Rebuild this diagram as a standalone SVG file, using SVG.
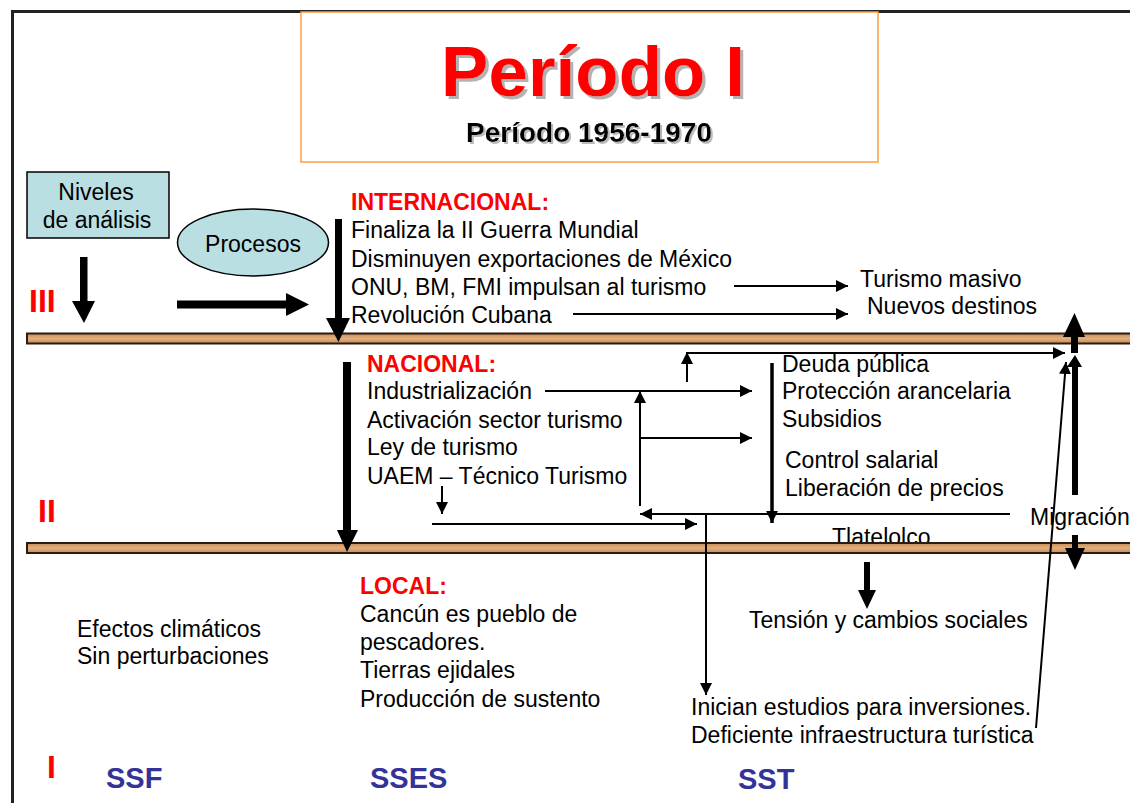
<svg xmlns="http://www.w3.org/2000/svg" width="1130" height="803" viewBox="0 0 1130 803">
<style>
.t{font-family:"Liberation Sans",Arial,sans-serif;font-size:23px;fill:#000}
.h{font-family:"Liberation Sans",Arial,sans-serif;font-size:23px;font-weight:bold;fill:#ff0000}
.lv{font-family:"Liberation Sans",Arial,sans-serif;font-size:32px;font-weight:bold;fill:#ff0000}
.ss{font-family:"Liberation Sans",Arial,sans-serif;font-size:29px;font-weight:bold;fill:#333399}
.ln{stroke:#000;stroke-width:2;fill:none}
.thick{fill:#000}
.bar{fill:url(#wood);stroke:#2a1c12;stroke-width:2}
.node{fill:#b9dfe3;stroke:#000;stroke-width:1.5}
</style>
<defs>
<linearGradient id="wood" x1="0" y1="0" x2="0" y2="1">
<stop offset="0" stop-color="#c88a55"/>
<stop offset="0.5" stop-color="#e2b07f"/>
<stop offset="1" stop-color="#c88a55"/>
</linearGradient>
<filter id="sh1" x="-5%" y="-10%" width="115%" height="130%">
<feOffset in="SourceAlpha" dx="3" dy="3" result="o"/>
<feFlood flood-color="#b3b3b3"/>
<feComposite in2="o" operator="in" result="s"/>
<feMerge><feMergeNode in="s"/><feMergeNode in="SourceGraphic"/></feMerge>
</filter>
<filter id="sh2" x="-5%" y="-10%" width="115%" height="130%">
<feOffset in="SourceAlpha" dx="2" dy="2" result="o"/>
<feFlood flood-color="#bbbbbb"/>
<feComposite in2="o" operator="in" result="s"/>
<feMerge><feMergeNode in="s"/><feMergeNode in="SourceGraphic"/></feMerge>
</filter>
<marker id="ah" viewBox="0 0 10 10" refX="10" refY="5" markerWidth="6" markerHeight="6" orient="auto" markerUnits="strokeWidth">
<path d="M0,0 L10,5 L0,10 z" fill="#000"/>
</marker>
<marker id="ah2" viewBox="0 0 10 10" refX="10" refY="5" markerWidth="3.4" markerHeight="3.4" orient="auto" markerUnits="strokeWidth">
<path d="M0,0 L10,5 L0,10 z" fill="#000"/>
</marker>
</defs>
<rect width="1130" height="803" fill="#fff"/>
<rect x="12.5" y="11.5" width="1130" height="810" fill="none" stroke="#222" stroke-width="3"/>

<g id="title">
<rect x="301" y="12" width="577" height="150" fill="#fff" stroke="#f7a040" stroke-width="1.5"/>
<text x="593" y="96" text-anchor="middle" font-family="Liberation Sans,Arial,sans-serif" font-size="71" font-weight="bold" fill="#ff0000" filter="url(#sh1)">Período I</text>
<text x="589" y="142" text-anchor="middle" font-family="Liberation Sans,Arial,sans-serif" font-size="28" font-weight="bold" fill="#000" filter="url(#sh2)">Período 1956-1970</text>
</g>

<g id="niveles">
<rect class="node" x="27" y="172" width="142" height="66"/>
<text class="t" x="96" y="200" text-anchor="middle">Niveles</text>
<text class="t" x="97" y="228" text-anchor="middle">de análisis</text>
</g>
<g id="procesos">
<ellipse class="node" cx="253" cy="242.5" rx="75.5" ry="33.5"/>
<text class="t" x="253" y="252" text-anchor="middle">Procesos</text>
</g>

<g id="labels-levels">
<text class="lv" x="29" y="312">III</text>
<text class="lv" x="38" y="522">II</text>
<text class="lv" x="47" y="778">I</text>
</g>

<g id="internacional">
<text class="h" x="351" y="210">INTERNACIONAL:</text>
<text class="t" x="351" y="238">Finaliza la II Guerra Mundial</text>
<text class="t" x="351" y="267">Disminuyen exportaciones de México</text>
<text class="t" x="351" y="295">ONU, BM, FMI impulsan al turismo</text>
<text class="t" x="351" y="323">Revolución Cubana</text>
<text class="t" x="860" y="287">Turismo masivo</text>
<text class="t" x="867" y="314">Nuevos destinos</text>
</g>

<g id="nacional">
<text class="h" x="367" y="372">NACIONAL:</text>
<text class="t" x="367" y="399">Industrialización</text>
<text class="t" x="367" y="428">Activación sector turismo</text>
<text class="t" x="367" y="455">Ley de turismo</text>
<text class="t" x="367" y="484">UAEM – Técnico Turismo</text>
<text class="t" x="782" y="372">Deuda pública</text>
<text class="t" x="782" y="399">Protección arancelaria</text>
<text class="t" x="782" y="427">Subsidios</text>
<text class="t" x="785" y="468">Control salarial</text>
<text class="t" x="785" y="496">Liberación de precios</text>
<text class="t" x="832" y="545">Tlatelolco</text>
<text class="t" x="1030" y="525">Migración</text>
</g>

<g id="local">
<text class="h" x="360" y="594">LOCAL:</text>
<text class="t" x="360" y="622">Cancún es pueblo de</text>
<text class="t" x="360" y="650">pescadores.</text>
<text class="t" x="360" y="678">Tierras ejidales</text>
<text class="t" x="360" y="707">Producción de sustento</text>
<text class="t" x="77" y="637">Efectos climáticos</text>
<text class="t" x="77" y="664">Sin perturbaciones</text>
<text class="t" x="749" y="628">Tensión y cambios sociales</text>
<text class="t" x="691" y="715">Inician estudios para inversiones.</text>
<text class="t" x="691" y="743">Deficiente infraestructura turística</text>
</g>

<g id="subsystems">
<text class="ss" x="106" y="788">SSF</text>
<text class="ss" x="370" y="788">SSES</text>
<text class="ss" x="738" y="789">SST</text>
</g>

<g id="bars">
<rect class="bar" x="27" y="333.5" width="1110" height="10"/>
<rect class="bar" x="27" y="543" width="1110" height="10"/>
</g>

<g id="connectors">
<path class="thick" d="M80,257 H87.5 V301 H95 L84,323 L72,301 H80 Z"/>
<path class="thick" d="M177,300.5 H286 V293 L309,304.5 L286,316 V308.5 H177 Z"/>
<path class="thick" d="M335,219 H342 V318 H350 L338.5,342 L326,318 H335 Z"/>
<path class="thick" d="M343,362 H351 V530 H358 L347,552 L337,530 H343 Z"/>
<path class="thick" d="M864,562 H870 V590 H876 L867,609 L858,590 H864 Z"/>
<path class="thick" d="M1071,353 V337 H1063 L1074.5,313 L1085,337 H1078 V353 Z"/>
<path class="thick" d="M1072,495 V367 H1067 L1075,355 L1082,367 H1078 V495 Z"/>
<path class="thick" d="M1072,535 H1078 V548 H1085 L1075,570 L1065,548 H1072 Z"/>
<line class="ln" x1="734" y1="286" x2="848" y2="286" marker-end="url(#ah)"/>
<line class="ln" x1="573" y1="314" x2="848" y2="314" marker-end="url(#ah)"/>
<line class="ln" x1="545" y1="391" x2="752" y2="391" marker-end="url(#ah)"/>
<line class="ln" x1="640" y1="506" x2="640" y2="391" marker-end="url(#ah)"/>
<line class="ln" x1="640" y1="438" x2="752" y2="438" marker-end="url(#ah)"/>
<line class="ln" x1="1010" y1="514" x2="640" y2="514" marker-end="url(#ah)"/>
<line class="ln" x1="706" y1="514" x2="706" y2="695" marker-end="url(#ah)"/>
<line class="ln" x1="432" y1="524" x2="697" y2="524" marker-end="url(#ah)"/>
<line class="ln" x1="442" y1="486" x2="442" y2="514" marker-end="url(#ah)"/>
<line class="ln" x1="687" y1="382" x2="687" y2="352" marker-end="url(#ah)"/>
<line class="ln" x1="686" y1="353" x2="1065" y2="353" marker-end="url(#ah)"/>
<line x1="772" y1="363" x2="772" y2="523" stroke="#000" stroke-width="3.5" marker-end="url(#ah2)"/>
<line class="ln" x1="1036" y1="728" x2="1066" y2="362" marker-end="url(#ah)"/>
</g>
</svg>
